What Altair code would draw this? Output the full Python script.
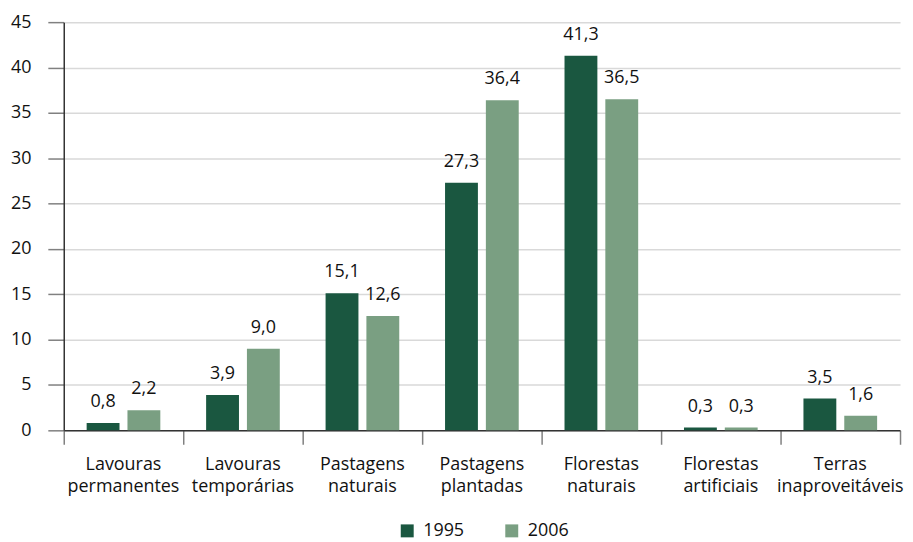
import altair as alt
import pandas as pd

categories = [
    "Lavouras permanentes",
    "Lavouras temporárias",
    "Pastagens naturais",
    "Pastagens plantadas",
    "Florestas naturais",
    "Florestas artificiais",
    "Terras inaproveitáveis",
]
years = ["1995", "2006"]
values_1995 = [0.8, 3.9, 15.1, 27.3, 41.3, 0.3, 3.5]
values_2006 = [2.2, 9.0, 12.6, 36.4, 36.5, 0.3, 1.6]
y_ticks = [0, 5, 10, 15, 20, 25, 30, 35, 40, 45]

rows = []
for c, a, b in zip(categories, values_1995, values_2006):
    for yr, v in ((years[0], a), (years[1], b)):
        rows.append({"cat": c, "ano": yr, "valor": v,
                     "rotulo": f"{v:.1f}".replace(".", ",")})
df = pd.DataFrame(rows)

FONT = "Open Sans"
FS = 18
DARK = "#1a5740"
LIGHT = "#7a9f82"
TXT = "#111111"

x = alt.X(
    "cat:N", sort=categories, title=None,
    scale=alt.Scale(paddingInner=0, paddingOuter=0),
    axis=alt.Axis(
        labelExpr="split(datum.label, ' ')", labelAngle=0, labelFontSize=FS,
        labelLineHeight=22, labelPadding=11, labelFont=FONT, labelColor=TXT,
        labelBaseline="top",
        bandPosition=1, tickExtra=True, tickSize=14, tickColor="#808080",
        tickWidth=1.5, domainColor="#333333", domainWidth=1.5, grid=False,
    ),
)
xo = alt.XOffset("ano:N", sort=years,
                 scale=alt.Scale(paddingInner=0.195, paddingOuter=0.561))
y = alt.Y(
    "valor:Q",
    scale=alt.Scale(domain=[0, 45], nice=False),
    axis=alt.Axis(
        values=y_ticks, title=None, tickSize=16, tickColor="#808080",
        tickWidth=1.5, gridColor="#d9d9d9", gridWidth=1.5,
        domainColor="#333333", domainWidth=1.5, labelFontSize=FS,
        labelPadding=17, labelFont=FONT, labelColor=TXT,
    ),
)
color = alt.Color(
    "ano:N", sort=years,
    scale=alt.Scale(domain=years, range=[DARK, LIGHT]),
    legend=alt.Legend(
        title=None, orient="none", legendX=336, legendY=502,
        direction="horizontal", symbolType="square", symbolSize=169,
        symbolStrokeWidth=0, symbolOpacity=1, labelFontSize=FS, labelFont=FONT,
        labelColor=TXT, columnPadding=38, labelOffset=7,
    ),
)

base = alt.Chart(df)
bars = base.mark_bar().encode(x=x, xOffset=xo, y=y, color=color)
texts = base.mark_text(dy=-16, baseline="alphabetic", fontSize=FS,
                       font=FONT, color=TXT).encode(
    x=x, xOffset=xo, y=y, text="rotulo:N")

chart = alt.layer(bars, texts).properties(
    width=840, height=410,
    padding={"left": 56, "top": 13, "right": 5, "bottom": 118},
    autosize=alt.AutoSizeParams(type="none"),
).configure_view(stroke=None)

chart.save("out.html", embed_options={"renderer": "svg", "actions": False})
